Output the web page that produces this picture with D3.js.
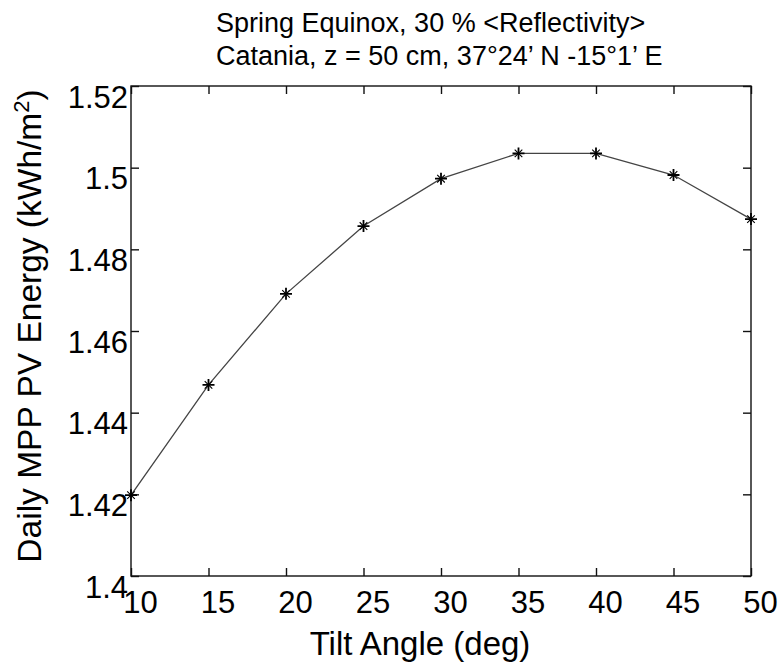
<!DOCTYPE html>
<html>
<head>
<meta charset="utf-8">
<script src="https://cdn.jsdelivr.net/npm/d3@7"></script>
<style>
  html, body { margin: 0; padding: 0; background: #fff; }
  svg { display: block; font-family: "Liberation Sans", Arial, sans-serif; }
</style>
</head>
<body>
<svg id="chart" width="781" height="665"></svg>
<script>
const tiltAngles = [10, 15, 20, 25, 30, 35, 40, 45, 50];
const energy = [1.4198, 1.4468, 1.4691, 1.4857, 1.4973, 1.5035, 1.5035, 1.4982, 1.4874];
const xTicks = [10, 15, 20, 25, 30, 35, 40, 45, 50];
const yTicks = [1.4, 1.42, 1.44, 1.46, 1.48, 1.5, 1.52];
const titleLines = ["Spring Equinox, 30 % <Reflectivity>", "Catania, z = 50 cm, 37°24’ N -15°1’ E"];
const xLabel = "Tilt Angle (deg)";

const svg = d3.select("#chart");
const m = { left: 131, right: 751, top: 86, bottom: 576 };

const x = d3.scaleLinear().domain([10, 50]).range([m.left, m.right]);
const y = d3.scaleLinear().domain([1.4, 1.52]).range([m.bottom, m.top]);

const tickLen = 8;
const axisColor = "#111";

// frame
svg.append("rect")
  .attr("x", m.left).attr("y", m.top)
  .attr("width", m.right - m.left).attr("height", m.bottom - m.top)
  .attr("fill", "none").attr("stroke", axisColor).attr("stroke-width", 1.4);

// axes with inward ticks
const xAxisB = d3.axisBottom(x).tickValues(xTicks).tickSizeInner(-tickLen).tickSizeOuter(0).tickFormat(d3.format("d"));
const gxb = svg.append("g").attr("transform", `translate(0,${m.bottom})`).call(xAxisB);
gxb.select(".domain").remove();
gxb.selectAll(".tick line").attr("stroke", axisColor).attr("stroke-width", 1.4);
gxb.selectAll(".tick text")
  .attr("font-size", 31).attr("fill", "#000")
  .attr("font-family", "Liberation Sans, Arial, sans-serif")
  .attr("dy", null).attr("y", 37).attr("x", 9);

const xAxisT = d3.axisTop(x).tickValues(xTicks).tickSizeInner(-tickLen).tickSizeOuter(0).tickFormat("");
const gxt = svg.append("g").attr("transform", `translate(0,${m.top})`).call(xAxisT);
gxt.select(".domain").remove();
gxt.selectAll(".tick line").attr("stroke", axisColor).attr("stroke-width", 1.4);

const yAxisL = d3.axisLeft(y).tickValues(yTicks).tickSizeInner(-tickLen).tickSizeOuter(0).tickFormat(d => d3.format("")(+d.toFixed(2)));
const gyl = svg.append("g").attr("transform", `translate(${m.left},0)`).call(yAxisL);
gyl.select(".domain").remove();
gyl.selectAll(".tick line").attr("stroke", axisColor).attr("stroke-width", 1.4);
gyl.selectAll(".tick text")
  .attr("font-size", 31).attr("fill", "#000")
  .attr("font-family", "Liberation Sans, Arial, sans-serif")
  .attr("dy", null).attr("x", -3).attr("y", 21)
  .attr("text-anchor", "end");

const yAxisR = d3.axisRight(y).tickValues(yTicks).tickSizeInner(-tickLen).tickSizeOuter(0).tickFormat("");
const gyr = svg.append("g").attr("transform", `translate(${m.right},0)`).call(yAxisR);
gyr.select(".domain").remove();
gyr.selectAll(".tick line").attr("stroke", axisColor).attr("stroke-width", 1.4);

// line
const line = d3.line().x((d, i) => x(tiltAngles[i])).y(d => y(d));
svg.append("path")
  .datum(energy)
  .attr("d", line)
  .attr("fill", "none")
  .attr("stroke", "#444")
  .attr("stroke-width", 1.3);

// asterisk markers
const mk = svg.append("g").attr("stroke", "#000").attr("fill", "none");
energy.forEach((v, i) => {
  const cx = x(tiltAngles[i]), cy = y(v);
  const a = 6, b = 3.8;
  mk.append("path").attr("stroke-width", 1.8).attr("d",
    `M${cx - a},${cy}L${cx + a},${cy}M${cx},${cy - a}L${cx},${cy + a}`);
  mk.append("path").attr("stroke-width", 1.1).attr("d",
    `M${cx - b},${cy - b}L${cx + b},${cy + b}M${cx - b},${cy + b}L${cx + b},${cy - b}`);
});

// title
svg.selectAll("text.title").data(titleLines).enter().append("text")
  .attr("class", "title")
  .attr("x", 216)
  .attr("y", (d, i) => 32 + i * 33)
  .attr("font-size", 27)
  .attr("fill", "#000")
  .text(d => d);

// x label
svg.append("text")
  .attr("x", 420).attr("y", 655)
  .attr("text-anchor", "middle")
  .attr("font-size", 33)
  .attr("fill", "#000")
  .text(xLabel);

// y label
const yl = svg.append("text")
  .attr("transform", `translate(41,326) rotate(-90)`)
  .attr("text-anchor", "middle")
  .attr("font-size", 33.5)
  .attr("fill", "#000");
yl.append("tspan").text("Daily MPP PV Energy (kWh/m");
yl.append("tspan").attr("font-size", 22).attr("dy", -12).text("2");
yl.append("tspan").attr("dy", 12).text(")");
</script>
</body>
</html>
